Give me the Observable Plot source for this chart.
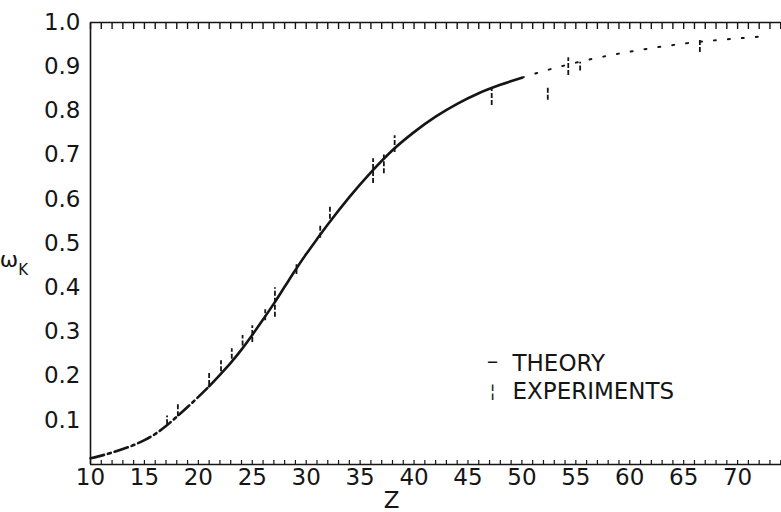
<!DOCTYPE html>
<html><head><meta charset="utf-8">
<script src="https://cdn.jsdelivr.net/npm/d3@7"></script>
<script src="https://cdn.jsdelivr.net/npm/@observablehq/plot@0.6"></script>
<style>body{margin:0;background:#fff} svg{display:block}</style>
</head><body><div id="chart"></div>
<script>
// Theory curve (K-shell fluorescence yield vs Z)
const zTheory = [10,12,14,15,16,17,18,19,20,21,22,23,24,25,26,27,28,29,30,31,32,34,36,38,40,42,44,46,48,50,52,54,56,58,60,62,64,66,68,70,72];
const wTheory = [0.014,0.027,0.044,0.055,0.069,0.087,0.108,0.13,0.153,0.177,0.203,0.23,0.26,0.293,0.328,0.364,0.402,0.44,0.476,0.51,0.543,0.605,0.661,0.711,0.752,0.787,0.816,0.84,0.859,0.875,0.89,0.903,0.915,0.925,0.934,0.942,0.949,0.955,0.96,0.964,0.968];
// Experimental points with error ranges
const zExp = [17.1,18.1,21.0,22.1,23.1,24.1,25.0,26.2,27.1,29.1,31.3,32.2,36.2,37.2,38.2,47.2,52.4,54.3,55.4,66.5];
const wExp = [0.10,0.122,0.195,0.224,0.25,0.28,0.30,0.337,0.38,0.44,0.525,0.57,0.665,0.68,0.726,0.842,0.84,0.905,0.90,0.948];
const wLo  = [0.09,0.108,0.179,0.21,0.238,0.268,0.276,0.325,0.333,0.43,0.512,0.555,0.636,0.658,0.706,0.812,0.824,0.88,0.89,0.932];
const wHi  = [0.11,0.135,0.206,0.235,0.262,0.292,0.314,0.35,0.40,0.452,0.54,0.585,0.692,0.70,0.744,0.853,0.855,0.92,0.91,0.96];
const xTickLabels = [10,15,20,25,30,35,40,45,50,55,60,65,70];
const xMinorTicks = d3.range(10, 75, 1);
const yTickLabels = [0.1,0.2,0.3,0.4,0.5,0.6,0.7,0.8,0.9,1.0];
const legendLabels = ["THEORY", "EXPERIMENTS"];

const theory = zTheory.map((z, i) => ({z, w: wTheory[i]}));
const exps = zExp.map((z, i) => ({z, w: wExp[i], lo: wLo[i], hi: wHi[i]}));

const ink = "#151515";
const plot = Plot.plot({
  width: 781, height: 512,
  marginTop: 22, marginBottom: 48, marginLeft: 90, marginRight: 0,
  style: {fontFamily: "DejaVu Sans", fontSize: "23px", color: ink, background: "#fff"},
  x: {domain: [10, 74.07]},
  y: {domain: [0, 1]},
  marks: [
    Plot.axisY({ticks: yTickLabels, tickFormat: d => d.toFixed(1), tickSize: 0, tickPadding: 10, label: null, fontSize: 23}),
    Plot.axisX({ticks: xTickLabels, tickSize: 0, tickPadding: 4, label: null, fontSize: 23, tickFormat: d => String(d)}),
    Plot.axisX({anchor: "bottom", ticks: xMinorTicks, tickSize: -4, tickFormat: () => "", label: null, strokeWidth: 1.2}),
    Plot.axisX({anchor: "top", ticks: xMinorTicks, tickSize: -6, tickFormat: () => "", label: null, strokeWidth: 1.4}),
    Plot.ruleX([10], {stroke: ink, strokeWidth: 1.6}),
    Plot.ruleY([0, 1], {stroke: ink, strokeWidth: 1.6}),
    Plot.line(theory.filter(d => d.z <= 21), {x: "z", y: "w", stroke: ink, strokeWidth: 2.6, curve: "monotone-x", strokeDasharray: "14,4,3,4"}),
    Plot.line(theory.filter(d => d.z >= 21 && d.z <= 50), {x: "z", y: "w", stroke: ink, strokeWidth: 2.6, curve: "monotone-x"}),
    Plot.line(theory.filter(d => d.z >= 50), {x: "z", y: "w", stroke: ink, strokeWidth: 2, curve: "monotone-x", strokeDasharray: "2,12"}),
    Plot.ruleX(exps, {x: "z", y1: "lo", y2: "hi", stroke: ink, strokeWidth: 1.8, strokeDasharray: "5,2"}),
    Plot.text(["–"], {text: d => d, frameAnchor: "top-left", dx: 402, dy: 339, textAnchor: "middle", lineAnchor: "middle", fontSize: 23, fill: ink}),
    Plot.text(["¦"], {text: d => d, frameAnchor: "top-left", dx: 402, dy: 369, textAnchor: "middle", lineAnchor: "middle", fontSize: 17, fill: ink}),
    Plot.text([legendLabels[0]], {text: d => d, frameAnchor: "top-left", dx: 422, dy: 341, textAnchor: "start", lineAnchor: "middle", fontSize: 23, fill: ink}),
    Plot.text([legendLabels[1]], {text: d => d, frameAnchor: "top-left", dx: 422, dy: 369, textAnchor: "start", lineAnchor: "middle", fontSize: 23, fill: ink}),
    Plot.text(["Z"], {text: d => d, frameAnchor: "bottom-left", dx: 301, dy: 36, textAnchor: "middle", lineAnchor: "middle", fontSize: 23, fill: ink})
  ]
});
document.getElementById("chart").appendChild(plot);

// y-axis label ω with subscript K
const ySc = plot.scale("y");
const yPix = ySc.apply(0.457);
const lab = d3.select(plot).append("text")
  .attr("x", 14).attr("y", yPix + 5)
  .attr("font-family", "DejaVu Sans").attr("fill", ink);
lab.append("tspan").attr("font-size", 22).text("ω");
lab.append("tspan").attr("font-size", 15).attr("dy", 8).text("K");
</script>
</body></html>
